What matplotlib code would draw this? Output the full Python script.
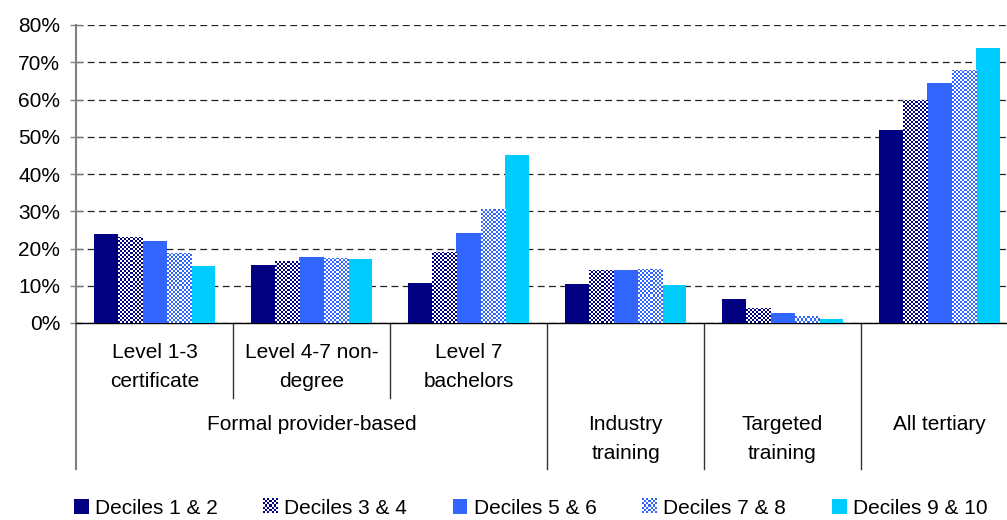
import numpy as np
import matplotlib
matplotlib.use("Agg")
import matplotlib.pyplot as plt
from matplotlib.colors import to_rgb
from matplotlib.lines import Line2D
from matplotlib.patches import Patch
from matplotlib.legend_handler import HandlerBase
from matplotlib.image import BboxImage
from matplotlib.transforms import Bbox, TransformedBbox

plt.rcParams['font.family'] = ['Liberation Sans', 'DejaVu Sans']

categories = ["Level 1-3\ncertificate", "Level 4-7 non-\ndegree", "Level 7\nbachelors",
              "Industry\ntraining", "Targeted\ntraining", "All tertiary"]
series = ["Deciles 1 & 2", "Deciles 3 & 4", "Deciles 5 & 6", "Deciles 7 & 8", "Deciles 9 & 10"]

d12 = [23.9, 15.6, 10.7, 10.6, 6.4, 51.8]
d34 = [23.1, 16.6, 19.0, 14.2, 4.0, 60.0]
d56 = [22.0, 17.7, 24.2, 14.2, 2.7, 64.5]
d78 = [18.8, 17.4, 30.6, 14.5, 1.9, 67.9]
d910 = [15.3, 17.2, 45.1, 10.3, 1.1, 73.8]
values = [d12, d34, d56, d78, d910]

colors = ["#000080", "#000080", "#3366FF", "#3366FF", "#00CCFF"]
checker = [False, True, False, True, False]

FS = 15


def checker_img(color, nx, ny, cell=2):
    # one array element per screen pixel, squares of `cell` pixels
    c = np.array(to_rgb(color))
    w = np.ones(3)
    ii, jj = np.indices((ny, nx))
    m = ((ii // cell + jj // cell) % 2 == 0)[..., None]
    return np.where(m, c, w)


fig = plt.figure(figsize=(10.07, 5.2), dpi=100)
# plot area runs a little past the right edge of the picture, as in the original
ax_w = 6 * 157
ax = fig.add_axes([76 / 1007, 1 - 323 / 520, ax_w / 1007, 298 / 520])

x = np.arange(len(categories))
bw = 0.154
px_per_x = ax_w / len(categories)
px_per_y = 298 / 80

for i, (vals, col, chk) in enumerate(zip(values, colors, checker)):
    pos = x + (i - 2) * bw
    if not chk:
        ax.bar(pos, vals, bw, color=col, zorder=3, linewidth=0)
    else:
        bars = ax.bar(pos, vals, bw, color="white", zorder=3, linewidth=0)
        for b in bars:
            x0, w, h = b.get_x(), b.get_width(), b.get_height()
            nx = max(1, int(round(w * px_per_x)))
            ny = max(1, int(round(h * px_per_y)))
            im = ax.imshow(checker_img(col, nx, ny), extent=[x0, x0 + w, 0, h],
                           aspect='auto', interpolation='nearest', zorder=3.5, origin='lower')
            im.set_clip_path(b)

ax.set_xlim(-0.5, len(categories) - 0.5)
ax.set_ylim(0, 80)

ax.set_yticks(np.arange(0, 81, 10))
ax.set_yticklabels([f"{v}%" for v in range(0, 81, 10)], fontsize=FS)
ax.tick_params(axis='y', direction='inout', length=9, width=1, color='#808080', pad=7)
ax.set_xticks([])
ax.yaxis.grid(True, color='#222222', linestyle=(0, (5.5, 3.5)), linewidth=0.9)
ax.set_axisbelow(True)
for s in ['top', 'right']:
    ax.spines[s].set_visible(False)
ax.spines['left'].set_color('#808080')
ax.spines['left'].set_linewidth(1.5)
ax.spines['bottom'].set_color('black')
ax.spines['bottom'].set_linewidth(1)

tr = ax.get_xaxis_transform()
ax.add_line(Line2D([-0.5, -0.5], [0, -0.49], transform=tr, color='#808080', lw=1.5, clip_on=False))
for xs in [0.5, 1.5]:
    ax.add_line(Line2D([xs, xs], [0, -0.252], transform=tr, color='#333333', lw=1, clip_on=False))
for xs in [2.5, 3.5, 4.5]:
    ax.add_line(Line2D([xs, xs], [0, -0.49], transform=tr, color='#333333', lw=1, clip_on=False))

for i, lab in enumerate(categories[:3]):
    ax.text(i, -0.148, lab, transform=tr, ha='center', va='center', fontsize=FS, linespacing=1.7)
ax.text(1, -0.339, "Formal provider-based", transform=tr, ha='center', va='center', fontsize=FS)
for i, lab in enumerate(categories[3:], start=3):
    yy = -0.339 if "\n" not in lab else -0.389
    ax.text(i, yy, lab, transform=tr, ha='center', va='center', fontsize=FS, linespacing=1.7)


class CheckerHandler(HandlerBase):
    def __init__(self, color):
        super().__init__()
        self.color = color

    def create_artists(self, legend, orig_handle, xdescent, ydescent, width, height, fontsize, trans):
        bb = Bbox.from_bounds(-xdescent, -ydescent, width, height)
        img = BboxImage(TransformedBbox(bb, trans), interpolation='nearest')
        img.set_data(checker_img(self.color, 14, 14))
        return [img]


handles = []
hmap = {}
for col, chk, lab in zip(colors, checker, series):
    h = Patch(facecolor=col, linewidth=0, label=lab)
    handles.append(h)
    if chk:
        hmap[h] = CheckerHandler(col)

fig.legend(handles=handles, labels=series, handler_map=hmap, loc='center', ncol=5,
           bbox_to_anchor=(0.527, 1 - 508 / 520), frameon=False, fontsize=FS,
           handlelength=0.7, handleheight=0.7, handletextpad=0.3, columnspacing=2.2)

fig.savefig("out.png", dpi=100)
